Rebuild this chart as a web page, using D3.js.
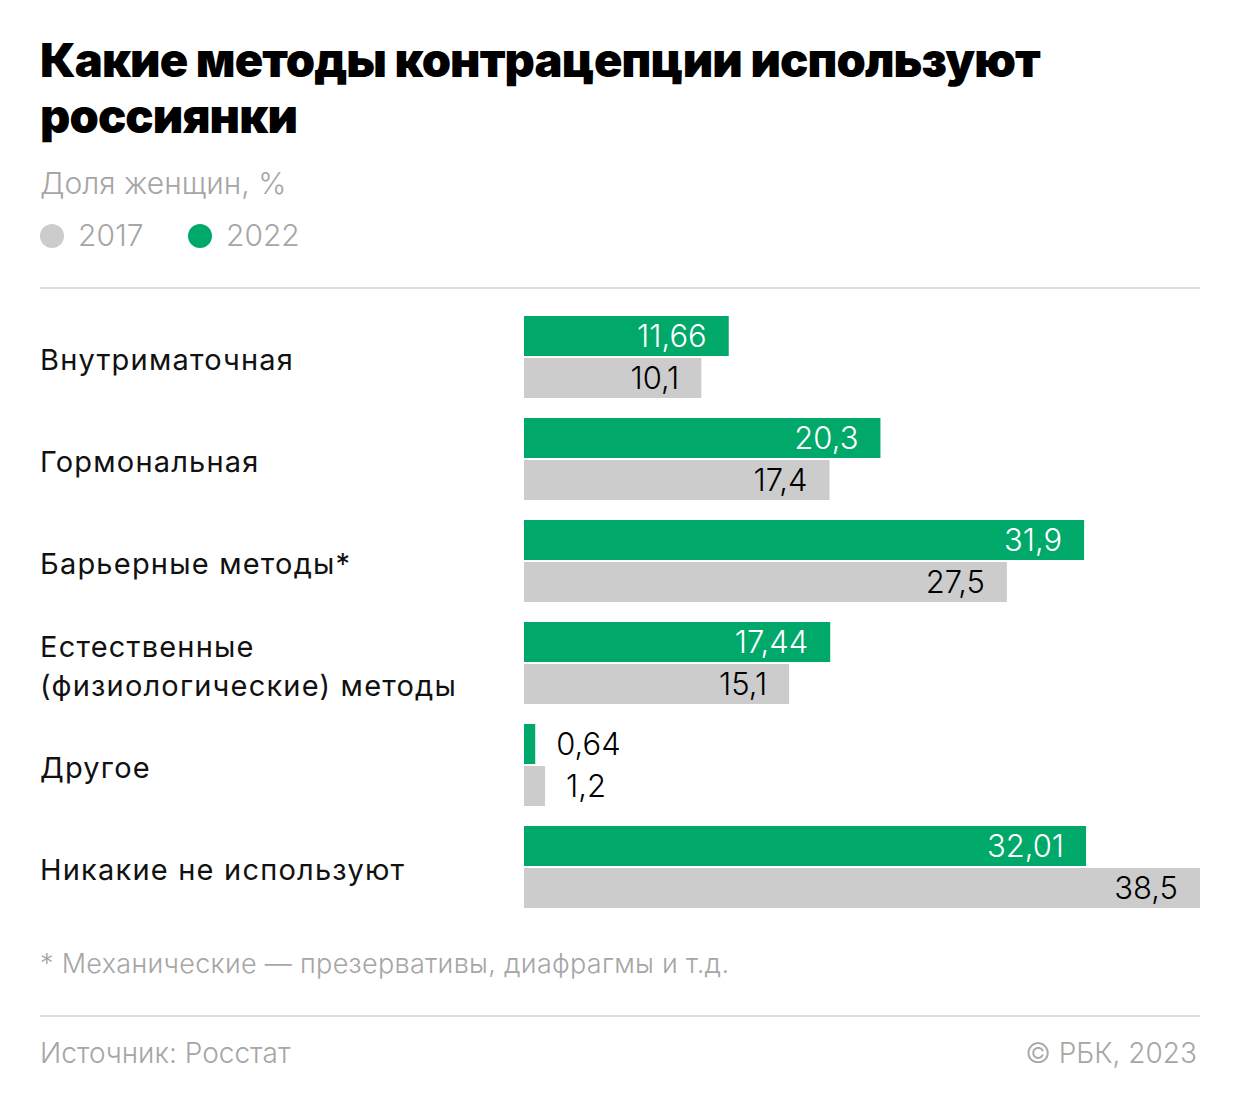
<!DOCTYPE html>
<html>
<head>
<meta charset="utf-8">
<script src="https://cdn.jsdelivr.net/npm/d3@7"></script>
<style>
  body { margin: 0; background: #fff; }
  text { font-family: Inter, Roboto, "Noto Sans", sans-serif; }
</style>
</head>
<body>
<div id="chart"></div>
<script>
// data
const categories = [
  ["Внутриматочная"],
  ["Гормональная"],
  ["Барьерные методы*"],
  ["Естественные", "(физиологические) методы"],
  ["Другое"],
  ["Никакие не используют"]
];
const values2022 = [11.66, 20.3, 31.9, 17.44, 0.64, 32.01];
const values2017 = [10.1, 17.4, 27.5, 15.1, 1.2, 38.5];
const labels2022 = ["11,66", "20,3", "31,9", "17,44", "0,64", "32,01"];
const labels2017 = ["10,1", "17,4", "27,5", "15,1", "1,2", "38,5"];
const years = ["2017", "2022"];

const W = 1240, H = 1103;
const green = "#00a86a", grey = "#cccccc", lightText = "#a6a6a6";

let svg = d3.select("#chart").append("svg")
    .attr("width", W)
    .attr("height", H);

// title
["Какие методы контрацепции используют", "россиянки"].forEach((t, i) => {
  svg.append("text").attr("x", 40).attr("y", 77 + i * 56)
      .attr("font-size", 47).attr("font-weight", 900).attr("fill", "#000")
      .attr("letter-spacing", -0.9)
      .text(t);
});

svg.append("text").attr("x", 40).attr("y", 194)
    .attr("font-size", 30).attr("font-weight", 300).attr("fill", lightText)
    .text("Доля женщин, %");

// legend
let legendX = [52, 200];
years.forEach((y, i) => {
  svg.append("circle").attr("cx", legendX[i]).attr("cy", 236).attr("r", 12)
      .attr("fill", i === 0 ? grey : green);
  svg.append("text").attr("x", legendX[i] + 26).attr("y", 246)
      .attr("font-size", 30).attr("font-weight", 300).attr("fill", lightText)
      .text(y);
});

svg.append("line").attr("x1", 40).attr("x2", 1200).attr("y1", 288).attr("y2", 288)
    .attr("stroke", "#dedede").attr("stroke-width", 2);

// scales
let x = d3.scaleLinear().domain([0, 38.5]).range([524, 1200]);
let y = d3.scaleBand().domain(d3.range(categories.length))
    .range([316, 908]).paddingInner(20 / 102).paddingOuter(0);
const barH = 40, gap = 2;

let groups = svg.selectAll("g.group")
    .data(categories)
    .join("g")
    .attr("class", "group")
    .attr("transform", (d, i) => `translate(0,${y(i)})`);

// category labels
groups.each(function(lines) {
  let g = d3.select(this);
  let mid = y.bandwidth() / 2;
  let lh = 39;
  lines.forEach((l, k) => {
    g.append("text")
        .attr("x", 40)
        .attr("y", mid + 13 + (k - (lines.length - 1) / 2) * lh)
        .attr("font-size", 29).attr("font-weight", 400).attr("fill", "#111")
        .attr("letter-spacing", 1.2)
        .text(l);
  });
});

function drawBars(vals, labs, offset, color, inside) {
  let big = i => x(vals[i]) - x(0) > 80;
  groups.append("rect")
      .attr("x", x(0))
      .attr("y", offset)
      .attr("width", (d, i) => x(vals[i]) - x(0))
      .attr("height", barH)
      .attr("fill", color);
  groups.append("text")
      .attr("x", (d, i) => big(i) ? x(vals[i]) - 22 : x(vals[i]) + 21)
      .attr("text-anchor", (d, i) => big(i) ? "end" : "start")
      .attr("y", offset + barH / 2 + 11)
      .attr("font-size", 31).attr("font-weight", 300)
      .attr("fill", (d, i) => big(i) ? inside : "#000")
      .text((d, i) => labs[i]);
}

drawBars(values2022, labels2022, 0, green, "#fff");
drawBars(values2017, labels2017, barH + gap, grey, "#000");

// footnote
svg.append("text").attr("x", 40).attr("y", 973)
    .attr("font-size", 27).attr("font-weight", 300).attr("fill", lightText)
    .attr("letter-spacing", 0.3)
    .text("* Механические — презервативы, диафрагмы и т.д.");

svg.append("line").attr("x1", 40).attr("x2", 1200).attr("y1", 1016).attr("y2", 1016)
    .attr("stroke", "#dedede").attr("stroke-width", 2);

svg.append("text").attr("x", 40).attr("y", 1063)
    .attr("font-size", 28).attr("font-weight", 300).attr("fill", lightText)
    .text("Источник: Росстат");
svg.append("text").attr("x", 1197).attr("y", 1063).attr("text-anchor", "end")
    .attr("font-size", 28).attr("font-weight", 300).attr("fill", lightText)
    .text("© РБК, 2023");
</script>
</body>
</html>
